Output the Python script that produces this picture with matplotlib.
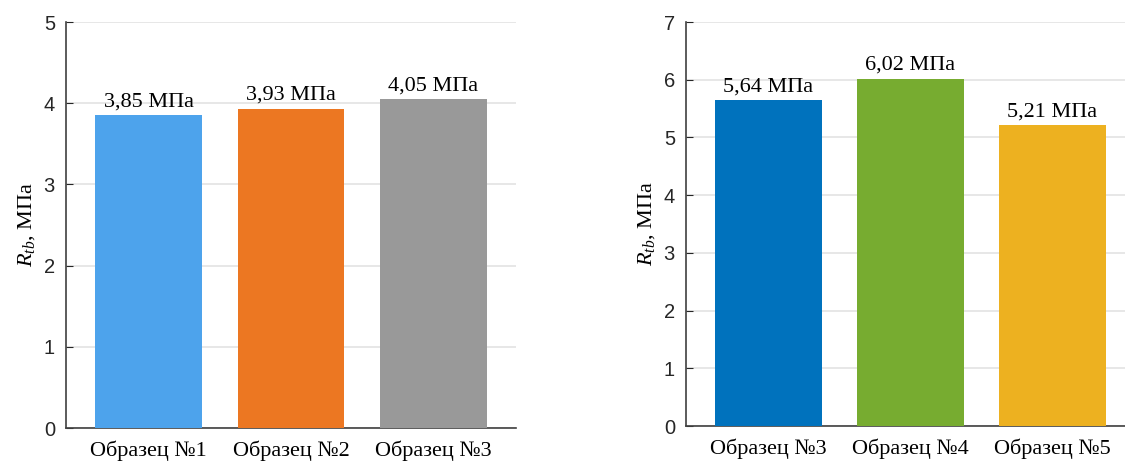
import matplotlib
matplotlib.use('Agg')
import matplotlib.pyplot as plt

# Data
labels_left = ['Образец №1', 'Образец №2', 'Образец №3']
values_left = [3.85, 3.93, 4.05]
colors_left = ['#4DA3EC', '#EC7722', '#999999']

labels_right = ['Образец №3', 'Образец №4', 'Образец №5']
values_right = [5.64, 6.02, 5.21]
colors_right = ['#0072BD', '#77AC30', '#EDB120']

plt.rcParams['mathtext.fontset'] = 'custom'
plt.rcParams['mathtext.rm'] = 'Liberation Serif'
plt.rcParams['mathtext.it'] = 'Liberation Serif:italic'

fig = plt.figure(figsize=(11.25, 4.62), dpi=100)
ax1 = fig.add_axes([66 / 1125, 1 - 428 / 462, (516 - 66) / 1125, (428 - 22) / 462])
ax2 = fig.add_axes([686 / 1125, 1 - 426 / 462, (1125 - 686) / 1125, (426 - 22) / 462])


def draw(ax, labels, values, colors, ymax, xmax):
    x = [1, 2, 3]
    ax.bar(x, values, width=0.75, color=colors, zorder=3)
    for xi, v in zip(x, values):
        ax.text(xi, v + ymax * 0.01, ('%.2f' % v).replace('.', ',') + ' МПа',
                ha='center', va='bottom', family='Liberation Serif', fontsize=16)
    ax.set_xlim(0.42, xmax)
    ax.set_ylim(0, ymax)
    ax.set_yticks(range(0, ymax + 1))
    ax.set_xticks(x)
    ax.set_xticklabels(labels, family='Liberation Serif', fontsize=16)
    for t in ax.get_yticklabels():
        t.set_family('Liberation Sans')
        t.set_fontsize(14.5)
        t.set_color('#262626')
    ax.tick_params(axis='y', direction='in', length=5, color='#262626', pad=8)
    ax.tick_params(axis='x', length=0, pad=9)
    ax.yaxis.grid(True, color='#e3e3e3', linewidth=1.2, zorder=0)
    ax.set_axisbelow(True)
    for s in ['top', 'right']:
        ax.spines[s].set_visible(False)
    for s in ['left', 'bottom']:
        ax.spines[s].set_color('#404040')
        ax.spines[s].set_linewidth(1.2)
    ax.set_ylabel(r'$R_{tb}$, МПа', family='Liberation Serif', fontsize=16, labelpad=5)


draw(ax1, labels_left, values_left, colors_left, 5, 3.58)
draw(ax2, labels_right, values_right, colors_right, 7, 3.51)

fig.savefig('out.png', dpi=100)
